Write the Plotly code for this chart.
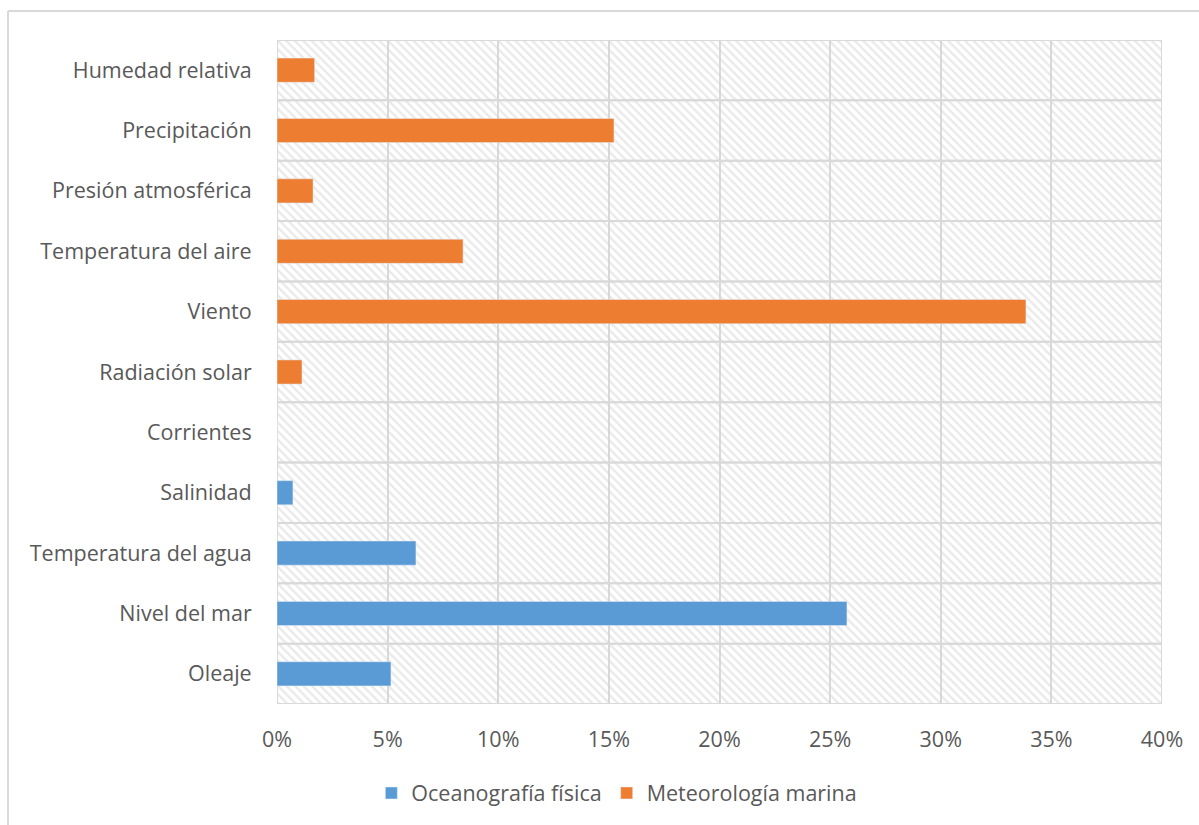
import plotly.graph_objects as go

categories = ["Oleaje", "Nivel del mar", "Temperatura del agua", "Salinidad", "Corrientes",
              "Radiación solar", "Viento", "Temperatura del aire", "Presión atmosférica",
              "Precipitación", "Humedad relativa"]
oceanografia = [0.0515, 0.2576, 0.0628, 0.0072, 0.0, None, None, None, None, None, None]
meteorologia = [None, None, None, None, None, 0.0113, 0.3385, 0.0841, 0.0163, 0.1523, 0.0170]
series_names = ["Oceanografía física", "Meteorología marina"]
x_ticks = [0, 0.05, 0.10, 0.15, 0.20, 0.25, 0.30, 0.35, 0.40]
X_MAX = 0.40

FONT = "Open Sans"
TXT = "#595959"
GRID = "#d9d9d9"
FS = 21.5

fig = go.Figure()
# hatched plot background (one cell per category)
fig.add_trace(go.Bar(
    y=categories, x=[X_MAX] * len(categories), orientation="h", width=1,
    marker=dict(color="rgba(0,0,0,0)",
                pattern=dict(shape="\\", fgcolor="#d4d4d4", bgcolor="rgba(0,0,0,0)",
                             size=6, solidity=0.4),
                line=dict(color=GRID, width=2)),
    showlegend=False, hoverinfo="skip"))
fig.add_trace(go.Bar(y=categories, x=oceanografia, orientation="h", width=0.4,
                     name=series_names[0], marker=dict(color="#5B9BD5")))
fig.add_trace(go.Bar(y=categories, x=meteorologia, orientation="h", width=0.4,
                     name=series_names[1], marker=dict(color="#ED7D31")))

fig.update_layout(
    width=1199, height=825,
    margin=dict(l=277, r=37, t=40, b=121),
    paper_bgcolor="white", plot_bgcolor="white",
    barmode="overlay",
    font=dict(family=FONT, size=FS, color=TXT),
    xaxis=dict(range=[0, X_MAX], tickvals=x_ticks, tickformat=".0%",
               showgrid=True, gridcolor=GRID, gridwidth=2, zeroline=False,
               ticks="outside", ticklen=16, tickcolor="rgba(0,0,0,0)",
               showline=False, tickfont=dict(size=FS, color=TXT)),
    yaxis=dict(type="category", categoryorder="array", categoryarray=categories,
               range=[-0.5, len(categories) - 0.5], showgrid=False, zeroline=False,
               ticks="outside", ticklen=20, tickcolor="rgba(0,0,0,0)",
               tickfont=dict(size=FS, color=TXT)),
    legend=dict(orientation="h", x=0.384, xanchor="center", y=-0.134, yanchor="middle",
                font=dict(size=FS, color=TXT), itemwidth=30, traceorder="normal"),
    showlegend=True,
)
# outer chart border (top and left visible)
fig.add_shape(type="line", xref="paper", yref="paper",
              x0=(8 - 277) / 885, x1=1.1, y0=1 + (40 - 11) / 664, y1=1 + (40 - 11) / 664,
              line=dict(color=GRID, width=2))
fig.add_shape(type="line", xref="paper", yref="paper",
              x0=(8 - 277) / 885, x1=(8 - 277) / 885, y0=-0.3, y1=1 + (40 - 11) / 664,
              line=dict(color=GRID, width=2))

fig.write_html("out.html")
